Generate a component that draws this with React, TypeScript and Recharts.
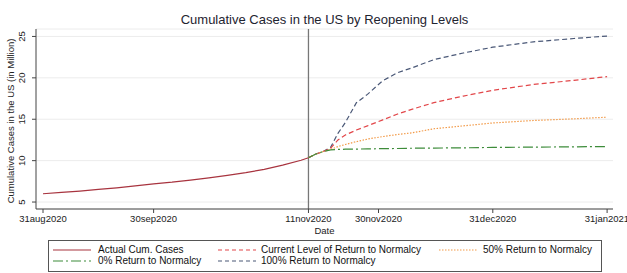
import React from 'react';
import { LineChart, Line, XAxis, YAxis, CartesianGrid, ReferenceLine } from 'recharts';

// days since 31aug2020
const actualDays = [0, 5, 10, 15, 20, 25, 30, 35, 40, 45, 50, 55, 60, 65, 70, 72];
const actualCases = [6.0, 6.17, 6.33, 6.52, 6.72, 6.95, 7.2, 7.4, 7.65, 7.93, 8.22, 8.55, 8.95, 9.45, 10.05, 10.35];

const projDays = [72, 74, 76, 78, 80, 82, 85, 88, 92, 96, 100, 106, 114, 122, 133, 144, 153];
const currentLevel = [10.35, 10.8, 11.1, 11.5, 12.5, 13.1, 13.7, 14.2, 14.9, 15.6, 16.2, 17.0, 17.8, 18.5, 19.2, 19.7, 20.15];
const fiftyPct = [10.35, 10.8, 11.1, 11.35, 11.7, 11.95, 12.3, 12.6, 12.9, 13.15, 13.35, 13.85, 14.2, 14.55, 14.85, 15.05, 15.25];
const zeroPct = [10.35, 10.8, 11.1, 11.3, 11.35, 11.38, 11.4, 11.42, 11.45, 11.47, 11.5, 11.52, 11.55, 11.6, 11.63, 11.67, 11.7];
const hundredPct = [10.35, 10.8, 11.1, 11.6, 13.3, 14.6, 17.0, 18.0, 19.6, 20.6, 21.2, 22.2, 23.0, 23.7, 24.35, 24.75, 25.05];

const xTicks = [0, 30, 72, 91, 122, 153];
const xTickLabels = ['31aug2020', '30sep2020', '11nov2020', '30nov2020', '31dec2020', '31jan2021'];
const yTicks = [5, 10, 15, 20, 25];

const COLORS = {
  actual: '#a8343f',
  current: '#e2474a',
  fifty: '#f29a48',
  zero: '#3d8c3a',
  hundred: '#4a5877',
};

const FONT = '"Liberation Sans", Arial, Helvetica, sans-serif';

type Row = { day: number; actual?: number; current?: number; fifty?: number; zero?: number; hundred?: number };

const buildData = (): Row[] => {
  const map = new Map<number, Row>();
  const get = (d: number) => {
    if (!map.has(d)) map.set(d, { day: d });
    return map.get(d)!;
  };
  actualDays.forEach((d, i) => (get(d).actual = actualCases[i]));
  projDays.forEach((d, i) => {
    const r = get(d);
    r.current = currentLevel[i];
    r.fifty = fiftyPct[i];
    r.zero = zeroPct[i];
    r.hundred = hundredPct[i];
  });
  return Array.from(map.values()).sort((a, b) => a.day - b.day);
};

const data = buildData();

const YTick = (props: any) => {
  const { y, payload } = props;
  return (
    <text x={25} y={y} transform={`rotate(-90 25 ${y})`} textAnchor="middle" fontSize={9.5} fill="#222" fontFamily={FONT}>
      {payload.value}
    </text>
  );
};

const YLabel = () => (
  <text x={14} y={121} transform="rotate(-90 14 121)" textAnchor="middle" fontSize={9.5} fill="#222" fontFamily={FONT}>
    Cumulative Cases in the US (in Million)
  </text>
);

const DateLabel = () => (
  <text x={324.5} y={234} textAnchor="middle" fontSize={9.5} fill="#222" fontFamily={FONT}>
    Date
  </text>
);

const legendItems = [
  { label: 'Actual Cum. Cases', color: COLORS.actual, dash: undefined, lx: 4, tx: 49, row: 0 },
  { label: 'Current Level of Return to Normalcy', color: COLORS.current, dash: '4 3', lx: 169, tx: 212, row: 0 },
  { label: '50% Return to Normalcy', color: COLORS.fifty, dash: '1.5 1.5', lx: 390, tx: 434, row: 0 },
  { label: '0% Return to Normalcy', color: COLORS.zero, dash: '10 3 2 3', lx: 4, tx: 49, row: 1 },
  { label: '100% Return to Normalcy', color: COLORS.hundred, dash: '4 3', lx: 169, tx: 212, row: 1 },
];

const LegendBox = () => (
  <div
    style={{
      position: 'absolute',
      left: 48,
      top: 240,
      width: 552,
      height: 30,
      border: '1px solid #555',
      background: '#fff',
      fontFamily: FONT,
      fontSize: 10,
      color: '#111',
    }}
  >
    {legendItems.map((it) => (
      <React.Fragment key={it.label}>
        <svg style={{ position: 'absolute', left: it.lx, top: 4 + it.row * 11, width: 38, height: 10 }}>
          <line x1={0} y1={5} x2={38} y2={5} stroke={it.color} strokeWidth={1.2} strokeDasharray={it.dash} />
        </svg>
        <div style={{ position: 'absolute', left: it.tx, top: 3 + it.row * 11, lineHeight: '11px', whiteSpace: 'nowrap' }}>
          {it.label}
        </div>
      </React.Fragment>
    ))}
  </div>
);

export default function App() {
  return (
    <div style={{ position: 'absolute', left: 0, top: 0, width: 627, height: 273, background: '#fff', fontFamily: FONT }}>
      <div
        style={{
          position: 'absolute',
          left: 0,
          width: 649,
          top: 12,
          textAlign: 'center',
          fontSize: 13,
          color: '#1e2430',
          lineHeight: '16px',
        }}
      >
        Cumulative Cases in the US by Reopening Levels
      </div>
      <LineChart width={627} height={273} data={data} margin={{ top: 29, right: 14, bottom: 34, left: 0 }}>
        <CartesianGrid horizontal vertical={false} stroke="#ececec" strokeWidth={1} />
        <XAxis
          dataKey="day"
          type="number"
          domain={[-1.9, 154.6]}
          ticks={xTicks}
          tickFormatter={(v: number) => xTickLabels[xTicks.indexOf(v)] ?? ''}
          allowDataOverflow
          height={30}
          stroke="#444"
          tickSize={4}
          tickMargin={2}
          tick={{ fontSize: 9.5, fill: '#222', fontFamily: FONT }}
          label={<DateLabel />}
        />
        <YAxis
          type="number"
          domain={[4.16, 25.9]}
          ticks={yTicks}
          allowDataOverflow
          width={36}
          stroke="#444"
          tickSize={4}
          tick={<YTick />}
          label={<YLabel />}
        />
        <ReferenceLine x={72} stroke="#777" strokeWidth={1.3} />
        <Line dataKey="actual" stroke={COLORS.actual} strokeWidth={1.2} dot={false} isAnimationActive={false} />
        <Line dataKey="hundred" stroke={COLORS.hundred} strokeWidth={1.2} strokeDasharray="5 3" dot={false} isAnimationActive={false} />
        <Line dataKey="current" stroke={COLORS.current} strokeWidth={1.2} strokeDasharray="5 3" dot={false} isAnimationActive={false} />
        <Line dataKey="fifty" stroke={COLORS.fifty} strokeWidth={1.2} strokeDasharray="1.5 1.5" dot={false} isAnimationActive={false} />
        <Line dataKey="zero" stroke={COLORS.zero} strokeWidth={1.2} strokeDasharray="10 3 2 3" dot={false} isAnimationActive={false} />
      </LineChart>
      <LegendBox />
    </div>
  );
}
